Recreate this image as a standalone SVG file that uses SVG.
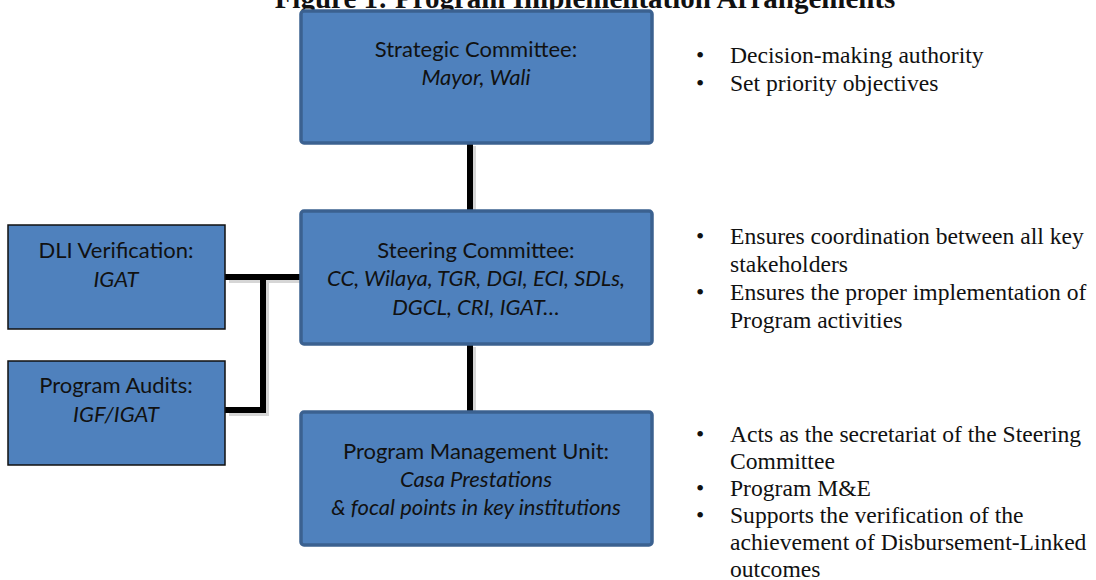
<svg xmlns="http://www.w3.org/2000/svg" width="1096" height="580" viewBox="0 0 1096 580">
<style>
.main{fill:#4F81BD;stroke:#3B6190;stroke-width:3.5}
.side{fill:#4F81BD;stroke:#111;stroke-width:1.5}
.t{font-family:Lato,"Liberation Sans",sans-serif;font-size:22px;fill:#111;text-anchor:middle}
.i{font-style:italic}
.b{font-family:"Liberation Serif","Times New Roman",serif;font-size:23.6px;fill:#111}
.ttl{font-family:"Liberation Serif","Times New Roman",serif;font-size:29px;font-weight:bold;fill:#111;text-anchor:middle}
.ln{stroke:#000;stroke-width:6;fill:none}
.sh{stroke:#bbb;stroke-width:6;fill:none;opacity:0.6}
</style>
<rect width="1096" height="580" fill="#fff"/>
<text class="ttl" x="585" y="8">Figure 1: Program Implementation Arrangements</text>
<g id="connectors">
<path class="sh" d="M473 146 V212 M473 347 V413 M229 280 H302 M266 280 V413 H229"/>
<path class="ln" d="M470 143 V210 M470 345 V411 M225 277 H300 M263 277 V410 H225"/>
</g>
<g id="strategic">
<rect class="main" x="301" y="11" width="351" height="132" rx="3"/>
<text class="t" x="476" y="57">Strategic Committee:</text>
<text class="t i" x="476" y="85">Mayor, Wali</text>
</g>
<g id="steering">
<rect class="main" x="301" y="211" width="351" height="133" rx="3"/>
<text class="t" x="476" y="258">Steering Committee:</text>
<text class="t i" x="476" y="286">CC, Wilaya, TGR, DGI, ECI, SDLs,</text>
<text class="t i" x="476" y="315">DGCL, CRI, IGAT…</text>
</g>
<g id="pmu">
<rect class="main" x="301" y="412" width="351" height="133" rx="3"/>
<text class="t" x="476" y="459">Program Management Unit:</text>
<text class="t i" x="476" y="487">Casa Prestations</text>
<text class="t i" x="476" y="515">&amp; focal points in key institutions</text>
</g>
<g id="dli">
<rect class="side" x="8" y="225" width="217" height="104"/>
<text class="t" x="116" y="258">DLI Verification:</text>
<text class="t i" x="116" y="287">IGAT</text>
</g>
<g id="audits">
<rect class="side" x="8" y="361" width="217" height="104"/>
<text class="t" x="116" y="393">Program Audits:</text>
<text class="t i" x="116" y="422">IGF/IGAT</text>
</g>
<g id="notes">
<text class="b" x="696" y="63">•</text><text class="b" x="730" y="63">Decision-making authority</text>
<text class="b" x="696" y="91">•</text><text class="b" x="730" y="91">Set priority objectives</text>
<text class="b" x="696" y="244">•</text><text class="b" x="730" y="244">Ensures coordination between all key</text>
<text class="b" x="730" y="272">stakeholders</text>
<text class="b" x="696" y="300">•</text><text class="b" x="730" y="300">Ensures the proper implementation of</text>
<text class="b" x="730" y="328">Program activities</text>
<text class="b" x="696" y="442">•</text><text class="b" x="730" y="442">Acts as the secretariat of the Steering</text>
<text class="b" x="730" y="469">Committee</text>
<text class="b" x="696" y="496">•</text><text class="b" x="730" y="496">Program M&amp;E</text>
<text class="b" x="696" y="523">•</text><text class="b" x="730" y="523">Supports the verification of the</text>
<text class="b" x="730" y="550">achievement of Disbursement-Linked</text>
<text class="b" x="730" y="577">outcomes</text>
</g>
</svg>
